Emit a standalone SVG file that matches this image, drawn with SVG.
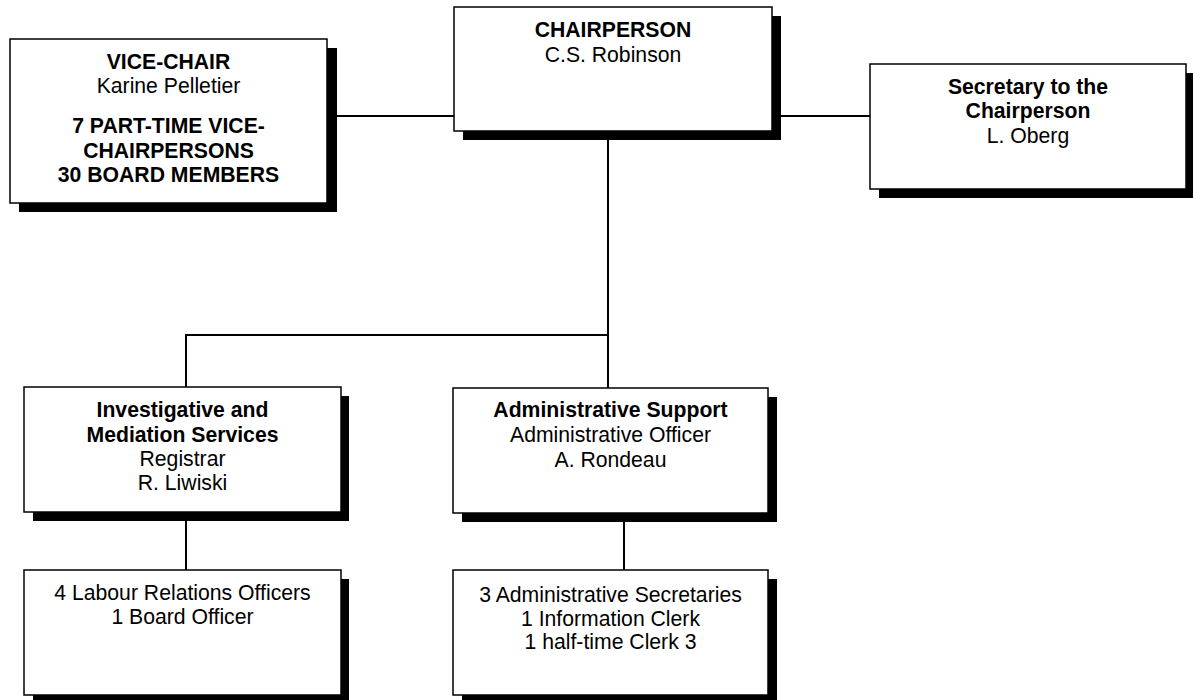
<svg xmlns="http://www.w3.org/2000/svg" width="1193" height="700" viewBox="0 0 1193 700">
<style>
.sh{fill:#000}
.bx{fill:#fff;stroke:#000;stroke-width:1.5}
text{font-family:"Liberation Sans",Arial,sans-serif;font-size:21.2px;fill:#000;text-anchor:middle}
.b{font-weight:bold}
.c{stroke:#000;stroke-width:2;fill:none}
</style>
<rect width="1193" height="700" fill="#fff"/>
<g id="connectors">
<line class="c" x1="327" y1="116" x2="454" y2="116"/>
<line class="c" x1="772" y1="116" x2="870" y2="116"/>
<line class="c" x1="608" y1="131" x2="608" y2="388"/>
<polyline class="c" points="608,335 186,335 186,387"/>
<line class="c" x1="186" y1="512" x2="186" y2="570"/>
<line class="c" x1="624" y1="513" x2="624" y2="570"/>
</g>
<g id="vice-chair">
<rect class="sh" x="19" y="48" width="318" height="164"/>
<rect class="bx" x="10" y="39" width="317" height="164"/>
<text x="168.5" y="69" class="b">VICE-CHAIR</text>
<text x="168.5" y="93">Karine Pelletier</text>
<text x="168.5" y="133" class="b">7 PART-TIME VICE-</text>
<text x="168.5" y="158" class="b">CHAIRPERSONS</text>
<text x="168.5" y="182" class="b">30 BOARD MEMBERS</text>
</g>
<g id="chairperson">
<rect class="sh" x="463" y="16" width="318" height="124"/>
<rect class="bx" x="454" y="7" width="318" height="124"/>
<text x="613" y="37" class="b">CHAIRPERSON</text>
<text x="613" y="62">C.S. Robinson</text>
</g>
<g id="secretary">
<rect class="sh" x="879" y="73" width="317" height="125"/>
<rect class="bx" x="870" y="64" width="316" height="125"/>
<text x="1028" y="94" class="b">Secretary to the</text>
<text x="1028" y="118" class="b">Chairperson</text>
<text x="1028" y="143">L. Oberg</text>
</g>
<g id="investigative">
<rect class="sh" x="33" y="396" width="316" height="125"/>
<rect class="bx" x="24" y="387" width="317" height="125"/>
<text x="182.5" y="417" class="b">Investigative and</text>
<text x="182.5" y="442" class="b">Mediation Services</text>
<text x="182.5" y="466">Registrar</text>
<text x="182.5" y="490">R. Liwiski</text>
</g>
<g id="admin-support">
<rect class="sh" x="462" y="397" width="315" height="125"/>
<rect class="bx" x="453" y="388" width="315" height="125"/>
<text x="610.5" y="417" class="b">Administrative Support</text>
<text x="610.5" y="442">Administrative Officer</text>
<text x="610.5" y="467">A. Rondeau</text>
</g>
<g id="labour-officers">
<rect class="sh" x="33" y="579" width="316" height="130"/>
<rect class="bx" x="24" y="570" width="317" height="125"/>
<text x="182.5" y="600">4 Labour Relations Officers</text>
<text x="182.5" y="624">1 Board Officer</text>
</g>
<g id="admin-staff">
<rect class="sh" x="462" y="579" width="315" height="130"/>
<rect class="bx" x="453" y="570" width="315" height="125"/>
<text x="610.5" y="602">3 Administrative Secretaries</text>
<text x="610.5" y="626">1 Information Clerk</text>
<text x="610.5" y="649">1 half-time Clerk 3</text>
</g>
</svg>
